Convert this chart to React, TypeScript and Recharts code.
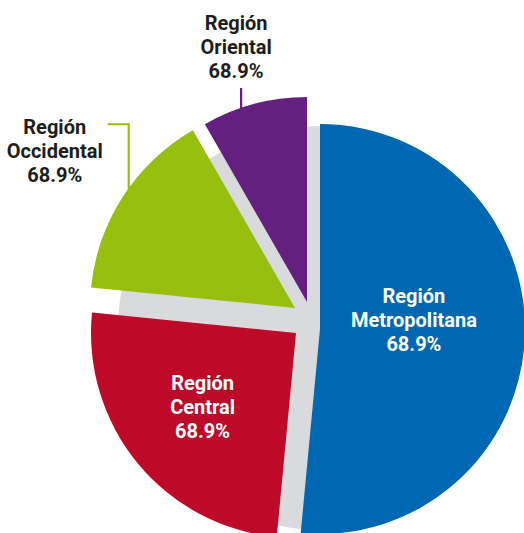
import { PieChart, Pie, Cell } from 'recharts'

// data (share of the circle, clockwise from 12 o'clock)
const regions = ['Región Metropolitana', 'Región Central', 'Región Occidental', 'Región Oriental']
const shares = [51.5, 25.1, 15.1, 8.3]
const shownValues = ['68.9%', '68.9%', '68.9%', '68.9%']

const colors = ['#0067b2', '#bd0a29', '#97bf0d', '#63207e']
const GREY = '#d9dadc'
const DARK = '#1d1d1b'

// explode offsets for each slice, px
const offsets = [[0, 1], [-24, 5], [-25, -20], [-13, -26]]

// where each label goes: anchor = slice vertex + polar(midAngle + shift, frac * radius)
const labelLayout = [
  { kind: 'inside', shift: -8, frac: 0.46 },
  { kind: 'inside', shift: 1.2, frac: 0.58 },
  { kind: 'outside', shift: 1.2, frac: 0.98, up: 71, hx: -21, tx: -53, ty: 10 },
  { kind: 'outside', shift: -4, frac: 0.99, up: 22, hx: 0, tx: -5, ty: -58 },
]

const RAD = Math.PI / 180
const LINE = 24

const data = regions.map((name, i) => ({ name, value: shares[i] }))
const background = [{ name: 'total', value: 100 }]

const renderLabel = (props: any) => {
  const { cx, cy, midAngle, outerRadius, index } = props
  const [dx, dy] = offsets[index]
  const lay: any = labelLayout[index]
  const a = (midAngle - lay.shift) * RAD
  const px = cx + dx + lay.frac * outerRadius * Math.cos(a)
  const py = cy + dy - lay.frac * outerRadius * Math.sin(a)
  const lines = [...regions[index].split(' '), shownValues[index]]

  if (lay.kind === 'inside') {
    return (
      <text
        key={`lbl-${index}`}
        x={px}
        y={py + 7 - LINE}
        textAnchor="middle"
        fill="#fff"
        fontFamily="Roboto, sans-serif"
        fontWeight={700}
        fontSize={20}
      >
        {lines.map((l, i) => (
          <tspan key={i} x={px} dy={i === 0 ? 0 : LINE}>{l}</tspan>
        ))}
      </text>
    )
  }

  const ey = py - lay.up
  const ex = px + lay.hx
  const tx = ex + lay.tx
  const ty = ey + lay.ty
  return (
    <g key={`lbl-${index}`}>
      <polyline
        points={`${px},${py} ${px},${ey} ${ex},${ey}`}
        fill="none"
        stroke={colors[index]}
        strokeWidth={2.2}
      />
      <text
        x={tx}
        y={ty}
        textAnchor="middle"
        fill={DARK}
        fontFamily="Roboto, sans-serif"
        fontWeight={700}
        fontSize={20}
      >
        {lines.map((l, i) => (
          <tspan key={i} x={tx} dy={i === 0 ? 0 : LINE}>{l}</tspan>
        ))}
      </text>
    </g>
  )
}

export default function App() {
  return (
    <div style={{ position: 'absolute', left: 0, top: 0, background: '#fff' }}>
      <PieChart width={524} height={533} margin={{ top: 0, right: 0, bottom: 0, left: 0 }}>
        <Pie
          data={background}
          dataKey="value"
          cx={320}
          cy={328}
          outerRadius={202}
          fill={GREY}
          stroke="none"
          isAnimationActive={false}
        />
        <Pie
          data={data}
          dataKey="value"
          cx={320}
          cy={328}
          outerRadius={205}
          startAngle={90}
          endAngle={-270}
          stroke="none"
          label={renderLabel}
          labelLine={false}
          isAnimationActive={false}
        >
          {data.map((d, i) => (
            <Cell
              key={d.name}
              fill={colors[i]}
              transform={`translate(${offsets[i][0]},${offsets[i][1]})`}
            />
          ))}
        </Pie>
      </PieChart>
    </div>
  )
}
